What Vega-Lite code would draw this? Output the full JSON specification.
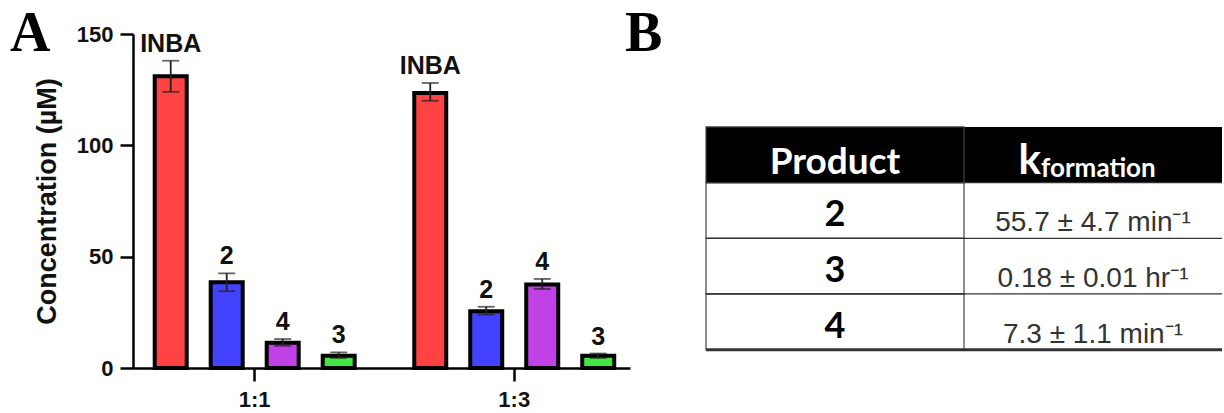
{
  "$schema": "https://vega.github.io/schema/vega-lite/v6.json",
  "background": "white",
  "padding": {"left": 10, "top": 6, "right": 0, "bottom": 0},
  "bounds": "flush",
  "spacing": 76,
  "config": {"view": {"stroke": null}, "font": "Liberation Sans"},
  "datasets": {
    "bars": [
      {"ratio": "1:1", "product": "INBA", "value": 131, "lo": 124, "hi": 138},
      {"ratio": "1:1", "product": "2", "value": 38.5, "lo": 34.5, "hi": 42.5},
      {"ratio": "1:1", "product": "4", "value": 11.3, "lo": 10, "hi": 13},
      {"ratio": "1:1", "product": "3", "value": 5.5, "lo": 4.5, "hi": 7},
      {"ratio": "1:3", "product": "INBA", "value": 123.5, "lo": 120, "hi": 128},
      {"ratio": "1:3", "product": "2", "value": 25.5, "lo": 24, "hi": 27.5},
      {"ratio": "1:3", "product": "4", "value": 37.5, "lo": 35.5, "hi": 40},
      {"ratio": "1:3", "product": "3", "value": 5.5, "lo": 4.5, "hi": 6.5}
    ],
    "rows": [{"row": "header"}, {"row": "2"}, {"row": "3"}, {"row": "4"}],
    "rates": [
      {"row": "2", "rate": "55.7 ± 4.7 min⁻¹"},
      {"row": "3", "rate": "0.18 ± 0.01 hr⁻¹"},
      {"row": "4", "rate": "7.3 ± 1.1 min⁻¹"}
    ]
  },
  "hconcat": [
    {
      "width": 497,
      "height": 334,
      "title": {"text": "A", "anchor": "start", "frame": "group", "font": "Liberation Serif", "fontSize": 56, "fontWeight": "bold", "color": "black", "dx": -123, "dy": 40, "offset": 0},
      "data": {"name": "bars"},
      "encoding": {
        "x": {"field": "ratio", "type": "nominal", "scale": {"paddingInner": 0.137, "paddingOuter": 0.026, "align": 0.72},
          "axis": {"title": null, "labelFont": "Liberation Sans", "labelFontWeight": "bold", "labelFontSize": 22, "labelColor": "#111", "labelPadding": 8, "labelAngle": 0, "tickSize": 13, "tickWidth": 2.5, "tickColor": "black", "domainColor": "black", "domainWidth": 2.5}},
        "xOffset": {"field": "product", "type": "nominal", "sort": ["INBA", "2", "4", "3"], "scale": {"paddingInner": 0.4286, "paddingOuter": 0.2143}}
      },
      "layer": [
        {
          "mark": {"type": "bar", "stroke": "black", "strokeWidth": 4},
          "encoding": {
            "y": {"field": "value", "type": "quantitative", "title": "Concentration (µM)", "scale": {"domain": [0, 150], "nice": false},
              "axis": {"values": [0, 50, 100, 150], "grid": false, "labelFont": "Liberation Sans", "labelFontWeight": "bold", "labelFontSize": 22, "labelColor": "#111", "labelPadding": 7, "tickSize": 13, "tickWidth": 2.5, "tickColor": "black", "domainColor": "black", "domainWidth": 2.5, "titleFont": "Liberation Sans", "titleFontWeight": "bold", "titleFontSize": 27, "titleColor": "#111", "titlePadding": 15}},
            "color": {"field": "product", "type": "nominal", "scale": {"domain": ["INBA", "2", "4", "3"], "range": ["#FF4242", "#4242FF", "#C042E6", "#42E642"]}, "legend": null}
          }
        },
        {
          "mark": {"type": "rule", "color": "#222", "strokeWidth": 1.8},
          "encoding": {"y": {"field": "lo", "type": "quantitative", "title": "Concentration (µM)"}, "y2": {"field": "hi"}}
        },
        {
          "mark": {"type": "tick", "color": "#222", "thickness": 1.8, "size": 17, "orient": "horizontal"},
          "encoding": {"y": {"field": "lo", "type": "quantitative", "title": "Concentration (µM)"}}
        },
        {
          "mark": {"type": "tick", "color": "#222", "thickness": 1.8, "size": 17, "orient": "horizontal"},
          "encoding": {"y": {"field": "hi", "type": "quantitative", "title": "Concentration (µM)"}}
        },
        {
          "mark": {"type": "text", "font": "Liberation Sans", "fontWeight": "bold", "fontSize": 25, "baseline": "middle", "dy": -17, "color": "#111"},
          "encoding": {"y": {"field": "hi", "type": "quantitative", "title": "Concentration (µM)"}, "text": {"field": "product"}}
        }
      ]
    },
    {
      "width": 516,
      "height": 334,
      "title": {"text": "B", "anchor": "start", "frame": "group", "font": "Liberation Serif", "fontSize": 56, "fontWeight": "bold", "color": "black", "dx": -81, "dy": 29, "offset": 0},
      "layer": [
        {
          "data": {"values": [{"row": "header", "col": "Product"}, {"row": "header", "col": "k"}]},
          "mark": {"type": "rect", "fill": "black", "strokeWidth": 0},
          "encoding": {
            "x": {"field": "col", "type": "nominal", "scale": {"type": "band", "domain": ["Product", "k"], "paddingInner": 0, "paddingOuter": 0}, "axis": null},
            "y": {"field": "row", "type": "nominal", "scale": {"type": "band", "domain": ["header", "2", "3", "4"], "paddingInner": 0, "paddingOuter": 1.107, "align": 0.835}, "axis": null}
          }
        },
        {
          "data": {"name": "rows"},
          "mark": {"type": "rect", "fill": "white", "fillOpacity": 0, "stroke": "#444", "strokeWidth": 1.2},
          "encoding": {
            "x": {"datum": "Product", "type": "nominal", "scale": {"type": "band", "domain": ["Product", "k"], "paddingInner": 0, "paddingOuter": 0}, "axis": null},
            "y": {"field": "row", "type": "nominal", "scale": {"type": "band", "domain": ["header", "2", "3", "4"], "paddingInner": 0, "paddingOuter": 1.107, "align": 0.835}, "axis": null}
          }
        },
        {
          "data": {"name": "rows"},
          "mark": {"type": "rule", "color": "#333"},
          "encoding": {
            "y": {"field": "row", "type": "nominal", "bandPosition": 1, "scale": {"type": "band", "domain": ["header", "2", "3", "4"], "paddingInner": 0, "paddingOuter": 1.107, "align": 0.835}, "axis": null},
            "strokeWidth": {"condition": {"test": "datum.row === '4'", "value": 3}, "value": 1.2}
          }
        },
        {
          "data": {"values": [{}]},
          "mark": {"type": "text", "text": "Product", "font": "Lato", "fontWeight": "bold", "fontSize": 37, "color": "white", "baseline": "alphabetic", "dy": 19},
          "encoding": {
            "x": {"datum": "Product", "type": "nominal", "axis": null},
            "y": {"datum": "header", "type": "nominal", "axis": null}
          }
        },
        {
          "data": {"values": [{}]},
          "mark": {"type": "text", "text": "k", "font": "Lato", "fontWeight": "bold", "fontSize": 42, "color": "white", "baseline": "alphabetic", "align": "right", "dx": -52, "dy": 19},
          "encoding": {
            "x": {"datum": "k", "type": "nominal", "axis": null},
            "y": {"datum": "header", "type": "nominal", "axis": null}
          }
        },
        {
          "data": {"values": [{}]},
          "mark": {"type": "text", "text": "formation", "font": "Lato", "fontWeight": "bold", "fontSize": 26, "color": "white", "baseline": "alphabetic", "align": "left", "dx": -52, "dy": 22},
          "encoding": {
            "x": {"datum": "k", "type": "nominal", "axis": null},
            "y": {"datum": "header", "type": "nominal", "axis": null}
          }
        },
        {
          "data": {"name": "rates"},
          "mark": {"type": "text", "font": "Lato", "fontWeight": "bold", "fontSize": 36, "color": "black", "baseline": "alphabetic", "dy": 16},
          "encoding": {
            "x": {"datum": "Product", "type": "nominal", "axis": null},
            "y": {"field": "row", "type": "nominal", "axis": null},
            "text": {"field": "row"}
          }
        },
        {
          "data": {"name": "rates"},
          "mark": {"type": "text", "font": "Liberation Sans", "fontSize": 28, "color": "#333", "baseline": "alphabetic", "dy": 21},
          "encoding": {
            "x": {"datum": "k", "type": "nominal", "axis": null},
            "y": {"field": "row", "type": "nominal", "axis": null},
            "text": {"field": "rate"}
          }
        }
      ]
    }
  ]
}
